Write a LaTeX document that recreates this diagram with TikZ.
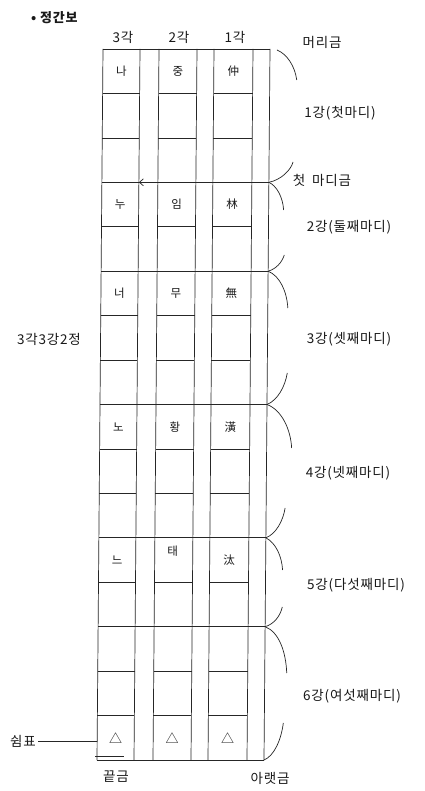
\documentclass[tikz,border=0pt]{standalone}
\usepackage{fontspec}
\setmainfont{Noto Sans CJK KR}
\newfontfamily\krlab[LetterSpace=6]{Noto Sans CJK KR}
\usetikzlibrary{arrows.meta}
\begin{document}
\begin{tikzpicture}[x=1pt,y=-1pt,
  gl/.style={line width=0.7pt, draw=black!85},
  brk/.style={line width=0.7pt, draw=black!85},
  lab/.style={font=\krlab\fontsize{13.5}{15}\selectfont, text=black!90, inner sep=0pt},
  cellt/.style={font=\fontsize{11.5}{13}\selectfont, text=black!90, inner sep=0pt},
  restmark/.style={font=\fontsize{13}{14}\selectfont, text=black!90, inner sep=0pt},
]
\useasboundingbox (0,0) rectangle (424,791);
\fill[white] (0,0) rectangle (424,791);
\def\rh{44.4375}

% heading and outside labels
\node[lab, anchor=west, font=\krlab\fontsize{13}{15}\selectfont\bfseries] (title) at (31,18) {• 정간보};
\node[lab] (h3) at (123,37) {3각};
\node[lab] (h2) at (179,37) {2각};
\node[lab] (h1) at (235,37) {1각};
\node[lab] (head) at (322,42) {머리금};
\node[lab] (m1) at (340,113) {1강(첫마디)};
\node[lab] (bar1) at (322,180) {첫\hspace{0.5em}마디금};
\node[lab] (m2) at (349,227) {2강(둘째마디)};
\node[lab] (m3) at (349,339) {3강(셋째마디)};
\node[lab] (m4) at (348,473) {4강(넷째마디)};
\node[lab] (m5) at (356,585) {5강(다섯째마디)};
\node[lab] (m6) at (352,696) {6강(여섯째마디)};
\node[lab] (pos) at (49,339) {3각3강2정};
\node[lab] (rest) at (23,741) {쉼표};
\node[lab] (endl) at (116,777) {끝금};
\node[lab] (foot) at (270,778) {아랫금};

\begin{scope}[xslant=0.00844, xshift=0.41pt]
  % vertical lines
  \foreach \x in {103,140,159,197,214,253,270}
    \draw[gl] (\x,49) -- (\x,760);
  % full-width lines (top, measure lines, bottom)
  \foreach \k in {0,3,5,8,11,13,16}
    \draw[gl] (103,{49+\k*\rh}) -- (270,{49+\k*\rh});
  % row lines inside the three columns
  \foreach \k in {1,2,4,6,7,9,10,12,14,15} {
    \draw[gl] (103,{49+\k*\rh}) -- (140,{49+\k*\rh});
    \draw[gl] (159,{49+\k*\rh}) -- (197,{49+\k*\rh});
    \draw[gl] (214,{49+\k*\rh}) -- (253,{49+\k*\rh});
  }
  % arrow on the first bar line
  \coordinate (a1r) at (270,{49+3*\rh});
  \coordinate (a1l) at (140,{49+3*\rh});
  \draw[gl, -{Straight Barb[length=4pt,width=7pt]}] (a1r) -- (a1l);
  % end mark
  \coordinate (e1) at (101,756);
  \coordinate (e2) at (130,756);
  \draw[line width=1pt, black!85] (e1) -- (e2);
  % rest connector point
  \coordinate (restpt) at (103,741);

  % cell texts
  \node[cellt] (c11) at (121.5,{49+0.5*\rh}) {나};
  \node[cellt] (c12) at (178,{49+0.5*\rh}) {중};
  \node[cellt] (c13) at (233.5,{49+0.5*\rh}) {仲};
  \node[cellt] (c21) at (121.5,{49+3.5*\rh}) {누};
  \node[cellt] (c22) at (178,{49+3.5*\rh}) {임};
  \node[cellt] (c23) at (233.5,{49+3.5*\rh}) {林};
  \node[cellt] (c31) at (121.5,{49+5.5*\rh}) {너};
  \node[cellt] (c32) at (178,{49+5.5*\rh}) {무};
  \node[cellt] (c33) at (233.5,{49+5.5*\rh}) {無};
  \node[cellt] (c41) at (121.5,{49+8.5*\rh}) {노};
  \node[cellt] (c42) at (178,{49+8.5*\rh}) {황};
  \node[cellt] (c43) at (233.5,{49+8.5*\rh}) {潢};
  \node[cellt] (c51) at (121.5,{49+11.5*\rh}) {느};
  \node[cellt] (c52) at (177,{49+11.3*\rh}) {태};
  \node[cellt] (c53) at (233.5,{49+11.5*\rh}) {汰};
  \node[restmark] (r1) at (121.5,{49+15.5*\rh}) {△};
  \node[restmark] (r2) at (178,{49+15.5*\rh}) {△};
  \node[restmark] (r3) at (233.5,{49+15.5*\rh}) {△};

  % brackets on the right
  \draw[brk] (277,50) .. controls (287,54) and (295,66) .. (297,80);
  \draw[brk] (294,162) .. controls (292,170) and (282,180) .. (270,182.3);
  \draw[brk] (270,182.3) .. controls (278,186) and (284,197) .. (285,210);
  \draw[brk] (286,255) .. controls (284,262) and (278,269) .. (270,271.2);
  \draw[brk] (270,271.2) .. controls (282,276) and (289,292) .. (290,308);
  \draw[brk] (290,373) .. controls (288,386) and (281,400) .. (270,404.5);
  \draw[brk] (270,404.5) .. controls (285,410) and (294,430) .. (295,448);
  \draw[brk] (289,508) .. controls (287,521) and (280,534) .. (270,537.8);
  \draw[brk] (270,537.8) .. controls (280,543) and (286,556) .. (287,570);
  \draw[brk] (287,607) .. controls (285,616) and (279,624) .. (270,626.7);
  \draw[brk] (270,626.7) .. controls (284,632) and (291,652) .. (292,673);
  \draw[brk] (289,723) .. controls (287,740) and (280,756) .. (270,760);
\end{scope}

\draw[gl] (rest.east) ++(2,0) -- (restpt);
\end{tikzpicture}
\end{document}
